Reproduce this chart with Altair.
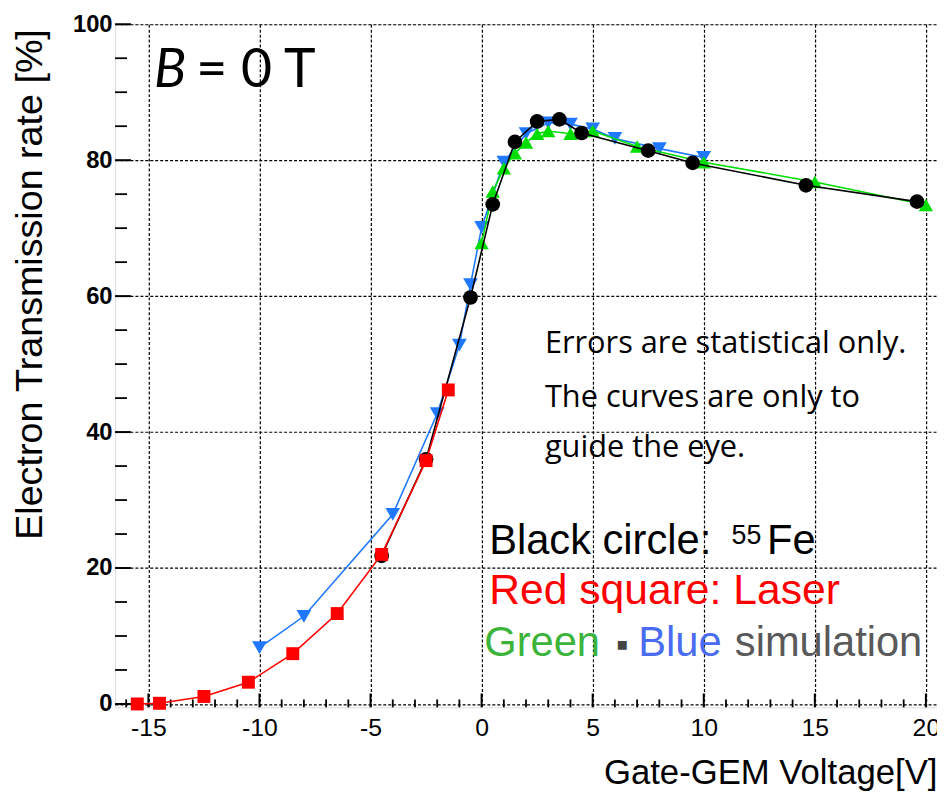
import altair as alt
import pandas as pd

# ---------------- data ----------------
fe_x = [-4.5, -2.5, -0.5, 0.5, 1.5, 2.5, 3.5, 4.5, 7.5, 9.5, 14.6, 19.6]
fe_y = [21.8, 36.0, 59.8, 73.5, 82.7, 85.7, 86.0, 84.0, 81.4, 79.6, 76.3, 73.9]

laser_x = [-15.5, -14.5, -12.5, -10.5, -8.5, -6.5, -4.5, -2.5, -1.5]
laser_y = [0.0, 0.1, 1.1, 3.2, 7.4, 13.3, 22.0, 35.8, 46.2]

blue_x = [-10, -8, -4, -2, -1, -0.5, 0, 1, 2, 3, 4, 5, 6, 8, 10]
blue_y = [8.3, 12.9, 27.9, 42.7, 52.8, 61.7, 70.1, 79.7, 83.9, 85.5, 85.3, 84.6, 83.2, 81.7, 80.4]

green_x = [0, 0.5, 1, 1.5, 2, 2.5, 3, 4, 5, 7, 10, 15, 20]
green_y = [67.8, 75.4, 78.8, 81.0, 82.6, 83.9, 84.3, 83.9, 84.3, 82.0, 79.7, 76.8, 73.4]

x_major = [-15, -10, -5, 0, 5, 10, 15, 20]
x_minor = [v for v in range(-16, 21) if v % 5 != 0]
y_major = [0, 20, 40, 60, 80, 100]
y_minor = [v for v in range(5, 100, 5) if v % 20 != 0]

X_DOM = [-16.5, 20.5]
Y_DOM = [-0.5, 100]
W, H = 829, 689

xs = alt.Scale(domain=X_DOM, nice=False, zero=False)
ys = alt.Scale(domain=Y_DOM, nice=False, zero=False)

FONT = "Liberation Sans"

x_axis = alt.Axis(values=x_major, grid=True, gridColor="black", gridDash=[3, 2],
                  gridWidth=1.2, gridOpacity=1, ticks=False, domain=False,
                  labelExpr="'' + datum.value",
                  labelFont=FONT, labelFontSize=25, labelColor="black", labelPadding=8,
                  title="Gate-GEM Voltage[V]", titleFont=FONT, titleFontSize=35,
                  titleFontWeight="normal", titleColor="black", titleAlign="right",
                  titleBaseline="alphabetic", titleX=W, titleY=77, titleAnchor="end")
y_axis = alt.Axis(values=y_major, grid=True, gridColor="black", gridDash=[3, 2],
                  gridWidth=1.2, gridOpacity=1, ticks=False, domain=False,
                  labelFont=FONT, labelFontSize=24, labelFontWeight="bold",
                  labelColor="black", labelPadding=3,
                  title="Electron Transmission rate [%]", titleFont=FONT, titleFontSize=38,
                  titleFontWeight="normal", titleColor="black", titleAngle=270,
                  titleAlign="center", titleBaseline="middle", titleX=-85, titleY=262)

layers = []

# inside ticks (ROOT style)
xt_major = alt.Chart(pd.DataFrame({"v": x_major})).mark_rule(
    color="black", strokeWidth=2).encode(
    x=alt.X("v:Q", scale=xs, axis=x_axis), y=alt.value(H), y2=alt.value(H - 14))
xt_minor = alt.Chart(pd.DataFrame({"v": x_minor})).mark_rule(
    color="black", strokeWidth=1.8).encode(
    x=alt.X("v:Q", scale=xs), y=alt.value(H), y2=alt.value(H - 8))
yt_major = alt.Chart(pd.DataFrame({"v": y_major})).mark_rule(
    color="black", strokeWidth=2).encode(
    y=alt.Y("v:Q", scale=ys, axis=y_axis), x=alt.value(0), x2=alt.value(16))
yt_minor = alt.Chart(pd.DataFrame({"v": y_minor})).mark_rule(
    color="black", strokeWidth=1.8).encode(
    y=alt.Y("v:Q", scale=ys), x=alt.value(0), x2=alt.value(12))
layers += [xt_major, xt_minor, yt_major, yt_minor]


def series(xv, yv, color, shape, size):
    df = pd.DataFrame({"x": xv, "y": yv})
    b = alt.Chart(df)
    line = b.mark_line(color=color, strokeWidth=1.6).encode(
        x=alt.X("x:Q", scale=xs), y=alt.Y("y:Q", scale=ys))
    pts = b.mark_point(shape=shape, filled=True, opacity=1, color=color, size=size).encode(
        x=alt.X("x:Q", scale=xs), y=alt.Y("y:Q", scale=ys))
    return [line, pts]


layers += series(blue_x, blue_y, "#1f78ff", "triangle-down", 220)
layers += series(green_x, green_y, "#00dd00", "triangle-up", 210)
layers += series(fe_x, fe_y, "black", "circle", 220)
layers += series(laser_x, laser_y, "#ff0000", "square", 170)

# annotations
texts = [
    # text, x, y, color, size, font, style
    ("B", -14.75, 90.7, "black", 54, "Lato", "italic"),
    ("= 0 T", -12.85, 90.7, "black", 54, "Lato", "normal"),
    ("Errors are statistical only.", 2.85, 51.6, "black", 31, "Open Sans", "normal"),
    ("The curves are only to", 2.85, 43.7, "black", 31, "Open Sans", "normal"),
    ("guide the eye.", 2.85, 36.3, "black", 31, "Open Sans", "normal"),
    ("Black circle:", 0.34, 22.0, "black", 42, FONT, "normal"),
    ("55", 11.25, 23.6, "black", 27, FONT, "normal"),
    ("Fe", 12.85, 22.0, "black", 42, FONT, "normal"),
    ("Red square: Laser", 0.34, 14.7, "#ff0000", 43, FONT, "normal"),
    ("Green", 0.12, 7.1, "#3cb43c", 42, FONT, "normal"),
    ("\u25aa", 6.05, 8.0, "#444444", 18, "DejaVu Sans", "normal"),
    ("Blue", 7.05, 7.1, "#4a6cf0", 42, FONT, "normal"),
    ("simulation", 11.4, 7.1, "#595959", 42, FONT, "normal"),
]
for t, tx, ty, col, sz, fnt, sty in texts:
    layers.append(
        alt.Chart(pd.DataFrame({"x": [tx], "y": [ty], "t": [t]})).mark_text(
            align="left", baseline="alphabetic", color=col, fontSize=sz, font=fnt,
            fontStyle=sty).encode(
            x=alt.X("x:Q", scale=xs), y=alt.Y("y:Q", scale=ys), text="t:N"))

chart = alt.layer(*layers).properties(
    width=W, height=H, autosize="none",
    padding={"left": 108, "top": 13, "right": 0, "bottom": 84},
).configure_view(stroke="black", strokeWidth=1.8).configure(background="white")

chart.save("out.html", embed_options={"renderer": "svg", "actions": False})
